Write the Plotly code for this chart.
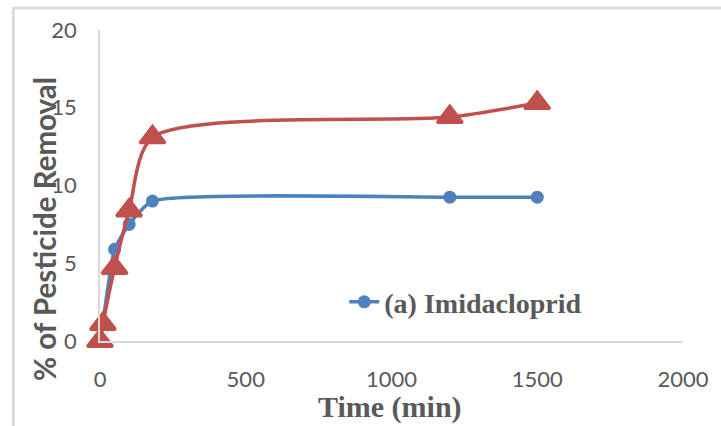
import plotly.graph_objects as go

# Data
time_blue = [0, 10, 50, 100, 180, 1200, 1500]
removal_blue = [0, 1.2, 5.9, 7.5, 9.0, 9.25, 9.25]
time_red = [0, 10, 50, 100, 180, 1200, 1500]
removal_red = [0, 1.1, 4.7, 8.4, 13.1, 14.4, 15.3]
legend_label = "(a) Imidacloprid"
x_ticks = [0, 500, 1000, 1500, 2000]
y_ticks = [0, 5, 10, 15, 20]

BLUE = "#4f81bd"
RED = "#c0504d"
GRAY = "#595959"
LIGHT = "#d9d9d9"

fig = go.Figure()
fig.add_trace(go.Scatter(
    x=time_blue, y=removal_blue, mode="lines+markers", name=legend_label,
    line=dict(color=BLUE, width=3.5, shape="spline", smoothing=0.5),
    marker=dict(symbol="circle", size=13, color=BLUE),
    cliponaxis=False, showlegend=True,
))
fig.add_trace(go.Scatter(
    x=time_red, y=removal_red, mode="lines+markers", name="red",
    line=dict(color=RED, width=3.5, shape="spline", smoothing=0.75),
    marker=dict(symbol="triangle-up", size=22, color=RED,
                line=dict(color=RED, width=3)),
    cliponaxis=False, showlegend=False,
))

fig.update_layout(
    width=721, height=426,
    margin=dict(l=100, r=29, t=30, b=85),
    paper_bgcolor="white", plot_bgcolor="white",
    showlegend=True,
    legend=dict(x=0.419, y=0.125, xanchor="left", yanchor="middle",
                bgcolor="rgba(0,0,0,0)",
                font=dict(family="Liberation Serif", size=28, color=GRAY,
                          weight="bold")),
    xaxis=dict(range=[0, 2000], tickvals=x_ticks, showgrid=False, zeroline=False,
               showline=True, linecolor=LIGHT, linewidth=1.5,
               ticks="", ticklabelstandoff=18,
               tickfont=dict(family="Lato", size=22, color=GRAY)),
    yaxis=dict(range=[0, 20], tickvals=y_ticks, showgrid=False, zeroline=False,
               showline=True, linecolor=LIGHT, linewidth=1.5,
               ticks="", ticklabelstandoff=17,
               tickfont=dict(family="Lato", size=22, color=GRAY)),
    annotations=[
        dict(text="Time (min)", xref="paper", yref="paper", x=0.497, y=-0.213,
             xanchor="center", yanchor="middle", showarrow=False,
             font=dict(family="Liberation Serif", size=30, color=GRAY, weight="bold")),
        dict(text="% of Pesticide Removal", xref="paper", yref="paper",
             x=-0.096, y=0.36, xanchor="center", yanchor="middle", textangle=-90,
             showarrow=False,
             font=dict(family="Lato", size=29.5, color=GRAY, weight="bold")),
    ],
    shapes=[
        dict(type="rect", xref="paper", yref="paper", x0=-0.1486, x1=2.0,
             y0=-0.6, y1=1.0707, line=dict(color=LIGHT, width=2.5), layer="below"),
    ],
)

fig.write_html("out.html")
